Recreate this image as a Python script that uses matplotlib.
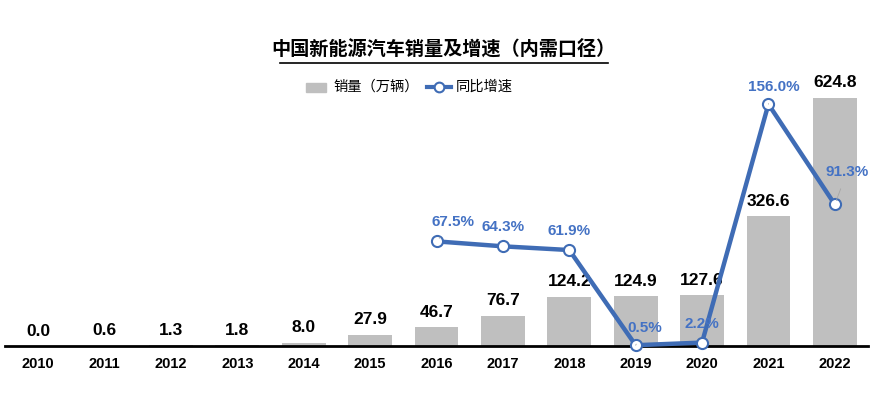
import matplotlib
matplotlib.use("Agg")
import matplotlib.pyplot as plt
from matplotlib.lines import Line2D
from matplotlib.patches import Rectangle

plt.rcParams['font.family'] = ['Liberation Sans', 'Noto Sans CJK SC', 'DejaVu Sans']

years = ['2010', '2011', '2012', '2013', '2014', '2015', '2016', '2017', '2018', '2019', '2020', '2021', '2022']
sales = [0.0, 0.6, 1.3, 1.8, 8.0, 27.9, 46.7, 76.7, 124.2, 124.9, 127.6, 326.6, 624.8]
growth_years = ['2016', '2017', '2018', '2019', '2020', '2021', '2022']
growth = [67.5, 64.3, 61.9, 0.5, 2.2, 156.0, 91.3]
# label offsets in pixels (dx, dy up) for growth labels
g_off = [(17, 19), (0, 19), (0, 19), (9, 17), (0, 19), (5, 17), (12, 32)]
g_leader = [True, False, False, True, False, True, True]

bar_color = '#BFBFBF'
line_color = '#3F6CB5'
lab_color = '#4472C4'
PX = 72 / 100  # points per pixel

fig = plt.figure(figsize=(8.73, 3.94), dpi=100)
ax = fig.add_axes([5 / 873, 48 / 394, 863 / 873, 286 / 394])
x = list(range(len(years)))
ax.bar(x, sales, width=0.66, color=bar_color, zorder=1)
ax.set_xlim(-0.5, len(years) - 0.5)
ax.set_ylim(0, 720)
for xi, v in zip(x, sales):
    ax.annotate(f'{v:.1f}', (xi, v), xytext=(0, 15 * PX), textcoords='offset points',
                ha='center', va='center', fontsize=12.5, fontweight='bold', color='black')
ax.set_xticks(x)
ax.set_xticklabels(years, fontsize=10.5, fontweight='bold')
ax.tick_params(axis='x', length=0, pad=8)
ax.set_yticks([])
for s in ['top', 'right', 'left']:
    ax.spines[s].set_visible(False)
ax.spines['bottom'].set_linewidth(2)
ax.spines['bottom'].set_zorder(5)

ax2 = ax.twinx()
ax2.set_ylim(0, 184.5)
ax2.set_yticks([])
for s in ['top', 'right', 'left', 'bottom']:
    ax2.spines[s].set_visible(False)
gx = [years.index(y) for y in growth_years]
ax2.plot(gx, growth, color=line_color, lw=3.2, marker='o', markersize=8,
         markerfacecolor='white', markeredgecolor=line_color, markeredgewidth=1.5, zorder=3,
         clip_on=False)
for xi, v, off, ld in zip(gx, growth, g_off, g_leader):
    ax2.annotate(f'{v:.1f}%', (xi, v), xytext=(off[0] * PX, off[1] * PX), textcoords='offset points',
                 ha='center', va='center', fontsize=11, fontweight='bold', color=lab_color,
                 arrowprops=dict(arrowstyle='-', color='#A6A6A6', lw=0.6, shrinkA=5, shrinkB=3) if ld else None)

fig.text(443 / 873, 1 - 50 / 394, '中国新能源汽车销量及增速（内需口径）', ha='center', va='center',
         fontsize=13.8, fontweight='heavy')
fig.add_artist(Line2D([280 / 873, 608 / 873], [1 - 63 / 394, 1 - 63 / 394], color='black', lw=1.2))

# legend
fig.add_artist(Rectangle((306 / 873, 1 - 92 / 394), 20 / 873, 9 / 394, color=bar_color,
                         transform=fig.transFigure))
fig.text(333 / 873, 1 - 87 / 394, '销量（万辆）', ha='left', va='center', fontsize=10.3)
fig.add_artist(Line2D([427 / 873, 451 / 873], [1 - 87 / 394, 1 - 87 / 394], color=line_color, lw=3))
fig.add_artist(Line2D([439 / 873], [1 - 87 / 394], color=line_color, marker='o', markersize=7,
                      markerfacecolor='white', markeredgewidth=1.5, lw=0))
fig.text(456 / 873, 1 - 87 / 394, '同比增速', ha='left', va='center', fontsize=10.3)

fig.savefig('out.png', dpi=100)
